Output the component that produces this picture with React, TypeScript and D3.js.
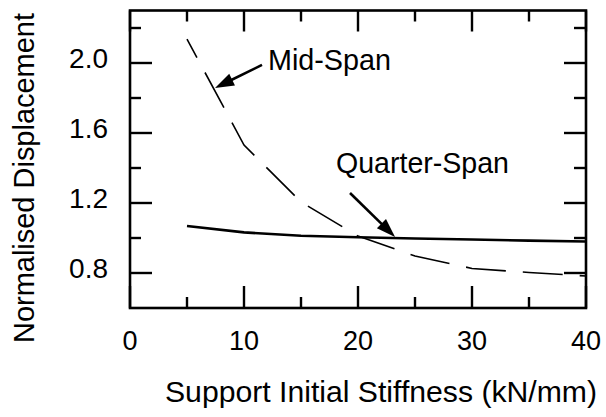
import React from "react";
import * as d3 from "d3";

const stiffness = [5, 10, 15, 20, 25, 30, 35, 40];
const midSpan = [2.137, 1.531, 1.206, 1.011, 0.897, 0.826, 0.803, 0.783];
const quarterSpan = [1.069, 1.032, 1.013, 1.004, 0.997, 0.991, 0.985, 0.98];
const xMajorTicks = [0, 10, 20, 30, 40];
const xMinorTicks = [5, 15, 25, 35];
const yMajorTicks = [0.8, 1.2, 1.6, 2.0];
const yMinorTicks = [1.0, 1.4, 1.8, 2.2];
const annotations = [
  { label: "Mid-Span", tx: 12.1, ty: 1.96, from: [11.58, 1.989], to: [7.46, 1.857] },
  { label: "Quarter-Span", tx: 18.07, ty: 1.371, from: [19.3, 1.257], to: [23.25, 1.006] },
];

const W = 606;
const H = 417;
const FONT = "'Liberation Sans', Arial, Helvetica, sans-serif";

export default function App() {
  const x = d3.scaleLinear().domain([0, 40]).range([130, 586]);
  const y = d3.scaleLinear().domain([0.6, 2.3]).range([308, 10.5]);
  const [x0, x1] = x.range();
  const [yb, yt] = y.range();

  const line = d3
    .line<[number, number]>()
    .x((d) => x(d[0]))
    .y((d) => y(d[1]));
  const midPath = line(stiffness.map((s, i) => [s, midSpan[i]]));
  const quarterPath = line(stiffness.map((s, i) => [s, quarterSpan[i]]));

  const arrowHead = (a: typeof annotations[0]) => {
    const fx = x(a.from[0]), fy = y(a.from[1]);
    const tx = x(a.to[0]), ty = y(a.to[1]);
    const ang = Math.atan2(ty - fy, tx - fx);
    const len = 19, hw = 6.5;
    const bx = tx - len * Math.cos(ang), by = ty - len * Math.sin(ang);
    const px = -Math.sin(ang) * hw, py = Math.cos(ang) * hw;
    return {
      shaft: { x1: fx, y1: fy, x2: bx + Math.cos(ang) * 2, y2: by + Math.sin(ang) * 2 },
      head: `${tx},${ty} ${bx + px},${by + py} ${bx - px},${by - py}`,
    };
  };

  return (
    <svg
      width={W}
      height={H}
      style={{ position: "absolute", left: 0, top: 0, background: "#fff" }}
      fontFamily={FONT}
    >
      <rect x={0} y={0} width={W} height={H} fill="#fff" />
      {/* data lines */}
      <path d={midPath || ""} fill="none" stroke="#000" strokeWidth={1.6} strokeDasharray="40,17" strokeDashoffset={19} />
      <path d={quarterPath || ""} fill="none" stroke="#000" strokeWidth={2.6} />

      {/* frame */}
      <rect x={x0} y={yt} width={x1 - x0} height={yb - yt} fill="none" stroke="#000" strokeWidth={2.6} />

      {/* x ticks */}
      {xMajorTicks.map((t) => (
        <g key={"xm" + t}>
          <line x1={x(t)} x2={x(t)} y1={yb} y2={yb - 22} stroke="#000" strokeWidth={2.4} />
          <line x1={x(t)} x2={x(t)} y1={yt} y2={yt + 21} stroke="#000" strokeWidth={2.4} />
          <text x={x(t)} y={350} textAnchor="middle" fontSize={27} fill="#000">
            {t}
          </text>
        </g>
      ))}
      {xMinorTicks.map((t) => (
        <g key={"xn" + t}>
          <line x1={x(t)} x2={x(t)} y1={yb} y2={yb - 11} stroke="#000" strokeWidth={2.4} />
          <line x1={x(t)} x2={x(t)} y1={yt} y2={yt + 11} stroke="#000" strokeWidth={2.4} />
        </g>
      ))}

      {/* y ticks */}
      {yMajorTicks.map((t) => (
        <g key={"ym" + t}>
          <line x1={x0} x2={x0 + 22} y1={y(t)} y2={y(t)} stroke="#000" strokeWidth={2.4} />
          <line x1={x1} x2={x1 - 22} y1={y(t)} y2={y(t)} stroke="#000" strokeWidth={2.4} />
          <text x={108} y={y(t) + 5} textAnchor="end" fontSize={28} fill="#000">
            {t.toFixed(1)}
          </text>
        </g>
      ))}
      {yMinorTicks.map((t) => (
        <g key={"yn" + t}>
          <line x1={x0} x2={x0 + 11} y1={y(t)} y2={y(t)} stroke="#000" strokeWidth={2.4} />
          <line x1={x1} x2={x1 - 12} y1={y(t)} y2={y(t)} stroke="#000" strokeWidth={2.4} />
        </g>
      ))}

      {/* annotations */}
      {annotations.map((a) => {
        const ar = arrowHead(a);
        return (
          <g key={a.label}>
            <line {...ar.shaft} stroke="#000" strokeWidth={2.6} />
            <polygon points={ar.head} fill="#000" />
            <text
              x={x(a.tx)}
              y={y(a.ty)}
              fontSize={30}
              fill="#000"
              textLength={a.label === "Mid-Span" ? 123 : 173}
              lengthAdjust="spacingAndGlyphs"
            >
              {a.label}
            </text>
          </g>
        );
      })}

      {/* axis titles */}
      <text x={165} y={402} fontSize={30} fill="#000" textLength={432} lengthAdjust="spacingAndGlyphs">
        Support Initial Stiffness (kN/mm)
      </text>
      <text
        transform="translate(34,178) rotate(-90)"
        textAnchor="middle"
        fontSize={29}
        fill="#000"
        textLength={330}
        lengthAdjust="spacingAndGlyphs"
      >
        Normalised Displacement
      </text>
    </svg>
  );
}
